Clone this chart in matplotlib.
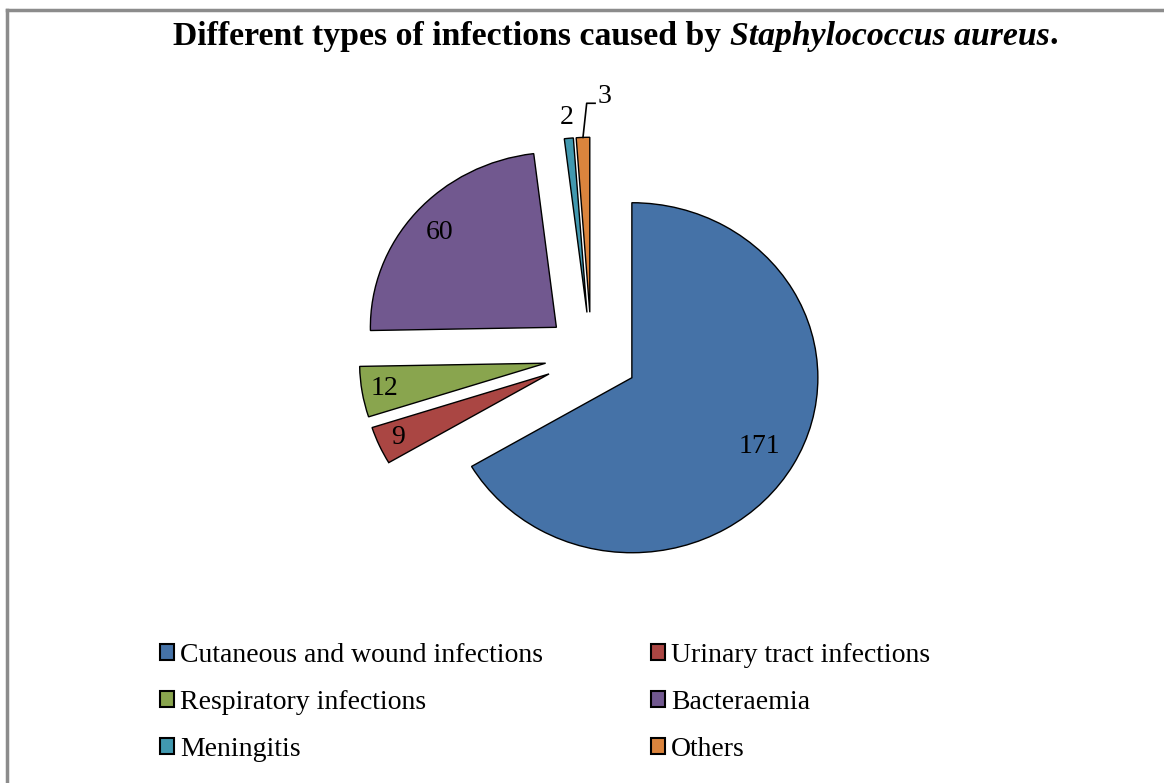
import numpy as np
import matplotlib
matplotlib.use("Agg")
import matplotlib.pyplot as plt
from matplotlib.patches import Rectangle

plt.rcParams["font.family"] = ["Liberation Serif", "DejaVu Serif"]

# data (clockwise from 12 o'clock)
categories = [
    "Cutaneous and wound infections",
    "Urinary tract infections",
    "Respiratory infections",
    "Bacteraemia",
    "Meningitis",
    "Others",
]
counts = [171, 9, 12, 60, 2, 3]
colors = ["#4572A7", "#AA4643", "#89A54E", "#71588F", "#4198AF", "#DB843D"]

# label radial position per slice (fraction of radius), outside ones > 1
label_dist = [0.79, 0.89, 0.88, 0.83, 1.12, 1.0]

W, H = 1164, 783
fig = plt.figure(figsize=(W / 100, H / 100), dpi=100)

# pie center / radii in pixels (the chart is slightly stretched horizontally)
cx, cy = 591.5, 356
rx, ry = 186, 175

ax = fig.add_axes([0, 0, 1, 1])
wedges, _ = ax.pie(
    counts,
    colors=colors,
    startangle=90,
    counterclock=False,
    explode=[0.25] * len(counts),
    wedgeprops=dict(edgecolor="black", linewidth=1.0),
)
ax.set_aspect("auto")
ax.set_xlim(-cx / rx, (W - cx) / rx)
ax.set_ylim(-(H - cy) / ry, cy / ry)
ax.axis("off")

# data labels
for i, w in enumerate(wedges):
    mid = np.deg2rad((w.theta1 + w.theta2) / 2)
    x0, y0 = w.center
    if categories[i] == "Others":
        # leader line up from the slice tip, then sideways to the label
        ex, ey = x0 + np.cos(mid), y0 + np.sin(mid)
        ax.plot([ex, ex + 0.02, ex + 0.065], [ey, ey + 0.195, ey + 0.195],
                color="black", lw=1.2)
        ax.text(ex + 0.08, ey + 0.235, str(counts[i]), fontsize=20,
                ha="left", va="center")
        continue
    d = label_dist[i]
    ax.text(x0 + d * np.cos(mid), y0 + d * np.sin(mid), str(counts[i]),
            fontsize=20, ha="center", va="center")

# title: bold part + bold italic species name
fig.canvas.draw()
r = fig.canvas.get_renderer()
tsize = 24.3
t1 = fig.text(0, 0, "Different types of infections caused by ", fontsize=tsize,
              fontweight="bold")
t2 = fig.text(0, 0, "Staphylococcus aureus", fontsize=tsize,
              fontweight="bold", style="italic")
t3 = fig.text(0, 0, ".", fontsize=tsize, fontweight="bold")
w1 = t1.get_window_extent(r).width
w2 = t2.get_window_extent(r).width
w3 = t3.get_window_extent(r).width
x_start = 615.5 - (w1 + w2 + w3) / 2
ty = 1 - 36 / H
t1.set_position((x_start / W, ty))
t2.set_position(((x_start + w1) / W, ty))
t3.set_position(((x_start + w1 + w2) / W, ty))
for t in (t1, t2, t3):
    t.set_va("center")

# legend, row-wise order
handles = [Rectangle((0, 0), 1, 1, facecolor=c, edgecolor="black", lw=1.5)
           for c in colors]
order = [0, 2, 4, 1, 3, 5]
fig.legend(
    [handles[i] for i in order],
    [categories[i] for i in order],
    ncol=2,
    loc="upper left",
    bbox_to_anchor=(160 / W, 1 - 643 / H),
    frameon=False,
    fontsize=20,
    handlelength=0.5,
    handleheight=0.5,
    handletextpad=0.22,
    columnspacing=3.9,
    labelspacing=0.79,
    borderpad=0,
    borderaxespad=0,
)

# gray chart-area border (left and top visible)
fig.add_artist(plt.Line2D([7 / W, 7 / W], [0, 1 - 10 / H],
                          color="#8c8c8c", lw=2.5, transform=fig.transFigure))
fig.add_artist(plt.Line2D([7 / W, 1], [1 - 10 / H, 1 - 10 / H],
                          color="#8c8c8c", lw=2.5, transform=fig.transFigure))

fig.savefig("out.png", dpi=100)
